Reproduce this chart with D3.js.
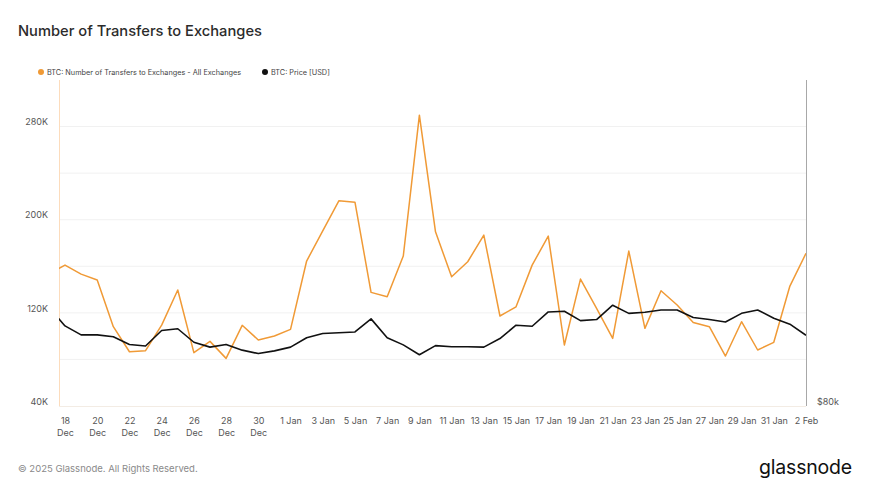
<!DOCTYPE html>
<html>
<head>
<meta charset="utf-8">
<script src="https://cdn.jsdelivr.net/npm/d3@7"></script>
<style>
  body { margin: 0; background: #fff; }
  svg { display: block; font-family: Inter, "Noto Sans", sans-serif; }
</style>
</head>
<body>
<div id="chart"></div>
<script>
// Glassnode style chart - transfers to exchanges vs BTC price

// daily dates, 17 Dec 2024 (partly clipped at the left edge) to 2 Feb 2025
const dates = [
    '2024-12-17', '2024-12-18', '2024-12-19', '2024-12-20', '2024-12-21', '2024-12-22', '2024-12-23',
    '2024-12-24', '2024-12-25', '2024-12-26', '2024-12-27', '2024-12-28', '2024-12-29', '2024-12-30',
    '2024-12-31', '2025-01-01', '2025-01-02', '2025-01-03', '2025-01-04', '2025-01-05', '2025-01-06',
    '2025-01-07', '2025-01-08', '2025-01-09', '2025-01-10', '2025-01-11', '2025-01-12', '2025-01-13',
    '2025-01-14', '2025-01-15', '2025-01-16', '2025-01-17', '2025-01-18', '2025-01-19', '2025-01-20',
    '2025-01-21', '2025-01-22', '2025-01-23', '2025-01-24', '2025-01-25', '2025-01-26', '2025-01-27',
    '2025-01-28', '2025-01-29', '2025-01-30', '2025-01-31', '2025-02-01', '2025-02-02'
];

// BTC: Number of Transfers to Exchanges - All Exchanges
const transfers = [
    153500, 161000, 153300, 148200, 108100, 86600, 87500,
    109500, 139600, 85800, 95500, 80900, 109300, 96700,
    100100, 105800, 164500, 190500, 216200, 215100, 137600,
    133800, 168800, 289800, 189600, 151000, 163900, 186800,
    117300, 125200, 161000, 185900, 92400, 149000, 123900,
    98100, 173100, 106700, 139000, 126700, 111800, 108100,
    82900, 112400, 88100, 94700, 143000, 171100
];

// BTC: Price [USD]
const price = [
    105600, 100200, 97700, 97700, 97200, 95100, 94700,
    98900, 99400, 95700, 94400, 95100, 93600, 92700,
    93400, 94400, 96900, 98100, 98300, 98500, 102200,
    96900, 95000, 92400, 94800, 94500, 94500, 94400,
    96700, 100400, 100100, 104200, 104400, 101700, 102000,
    106200, 103800, 104100, 104800, 104800, 102600, 102000,
    101300, 103800, 104800, 102400, 100700, 97600
];

const gridValues = [80000, 120000, 160000, 200000, 240000, 280000];
const leftTickValues = [40000, 120000, 200000, 280000];
const leftTickLabels = ['40K', '120K', '200K', '280K'];

const seriesNames = ['BTC: Number of Transfers to Exchanges - All Exchanges', 'BTC: Price [USD]'];
const seriesColors = ['#f09a36', '#111111'];

const W = 870, H = 490;
const plot = { left: 59, right: 806, top: 80, bottom: 406 };

const parse = d3.utcParse('%Y-%m-%d');
const rows = dates.map((d, i) => ({ date: parse(d), transfers: transfers[i], price: price[i] }));

const svg = d3.select('#chart').append('svg')
    .attr('width', W)
    .attr('height', H);

// scales
const firstDay = parse('2024-12-18');
const x = d3.scaleUtc()
    .domain([firstDay, parse('2025-02-02')])
    .range([65, plot.right]);

const y = d3.scaleLinear()
    .domain([40000, 320000])
    .range([plot.bottom, plot.top]);

const yPrice = d3.scaleLog()
    .domain([80000, 200000])
    .range([plot.bottom, plot.top]);

// title
svg.append('text')
    .attr('x', 18)
    .attr('y', 36)
    .style('font-size', '14.7px')
    .style('font-weight', 500)
    .style('fill', '#2b2b2b')
    .text('Number of Transfers to Exchanges');

// legend
const legendX = [41, 265];
const legend = svg.append('g').attr('transform', 'translate(0,72)');
seriesNames.forEach((name, i) => {
    legend.append('circle')
        .attr('cx', legendX[i])
        .attr('cy', 0)
        .attr('r', 3)
        .style('fill', seriesColors[i]);
    legend.append('text')
        .attr('x', legendX[i] + 6)
        .attr('y', 0)
        .attr('dy', '0.35em')
        .style('font-size', '7.3px')
        .style('fill', '#444')
        .text(name);
});

// grid lines
svg.append('g')
    .selectAll('line')
    .data(gridValues)
    .enter()
    .append('line')
    .attr('x1', plot.left)
    .attr('x2', plot.right)
    .attr('y1', d => y(d))
    .attr('y2', d => y(d))
    .style('stroke', '#f1f1f1')
    .style('stroke-width', 1);

// bottom line
svg.append('line')
    .attr('x1', plot.left)
    .attr('x2', plot.right)
    .attr('y1', plot.bottom + 0.5)
    .attr('y2', plot.bottom + 0.5)
    .style('stroke', '#f3ece4');

// left (orange) and right (grey) frame lines
svg.append('line')
    .attr('x1', plot.left + 0.5).attr('x2', plot.left + 0.5)
    .attr('y1', plot.top).attr('y2', plot.bottom)
    .style('stroke', '#fcdcbc');

svg.append('line')
    .attr('x1', plot.right + 0.5).attr('x2', plot.right + 0.5)
    .attr('y1', plot.top).attr('y2', plot.bottom)
    .style('stroke', '#a8a8a8');

// left axis labels
const leftAxis = svg.append('g')
    .attr('transform', `translate(48,0)`)
    .call(d3.axisLeft(y)
        .tickValues(leftTickValues)
        .tickSize(0)
        .tickPadding(0)
        .tickFormat((d, i) => leftTickLabels[i]));
leftAxis.select('.domain').remove();
leftAxis.selectAll('text')
    .attr('dy', '-0.2em')
    .style('font-family', 'Inter, sans-serif')
    .style('font-size', '9px')
    .style('fill', '#555');

// right axis label
const rightAxis = svg.append('g')
    .attr('transform', `translate(817,0)`)
    .call(d3.axisRight(yPrice)
        .tickValues([80000])
        .tickSize(0)
        .tickPadding(0)
        .tickFormat(d => '$' + d / 1000 + 'k'));
rightAxis.select('.domain').remove();
rightAxis.selectAll('text')
    .attr('dy', '-0.2em')
    .style('font-family', 'Inter, sans-serif')
    .style('font-size', '9px')
    .style('fill', '#555');

// x axis labels, every two days from 18 Dec
const xTicks = d3.range(0, 47, 2).map(i => d3.utcDay.offset(firstDay, i));
const xAxis = svg.append('g')
    .attr('transform', `translate(0,${plot.bottom})`)
    .call(d3.axisBottom(x)
        .tickValues(xTicks)
        .tickSize(0)
        .tickPadding(12)
        .tickFormat(d3.utcFormat('%-d %b')));
xAxis.select('.domain').remove();
xAxis.selectAll('text')
    .style('font-family', 'Inter, sans-serif')
    .style('font-size', '9px')
    .style('fill', '#555')
    .each(function(d) {
        if (d.getUTCMonth() === 11) {
            const t = d3.select(this);
            t.text(null);
            t.append('tspan').attr('x', 0).text(d.getUTCDate());
            t.append('tspan').attr('x', 0).attr('dy', '1.3em').text('Dec');
        }
    });

// clip lines to the plot area
svg.append('clipPath')
    .attr('id', 'plot-clip')
    .append('rect')
    .attr('x', plot.left)
    .attr('y', plot.top - 10)
    .attr('width', plot.right - plot.left)
    .attr('height', plot.bottom - plot.top + 10);

const lines = svg.append('g').attr('clip-path', 'url(#plot-clip)');

lines.append('path')
    .datum(rows)
    .attr('d', d3.line().x(d => x(d.date)).y(d => y(d.transfers)))
    .style('fill', 'none')
    .style('stroke', seriesColors[0])
    .style('stroke-width', 1.5)
    .style('stroke-linejoin', 'round');

lines.append('path')
    .datum(rows)
    .attr('d', d3.line().x(d => x(d.date)).y(d => yPrice(d.price)))
    .style('fill', 'none')
    .style('stroke', seriesColors[1])
    .style('stroke-width', 1.6)
    .style('stroke-linejoin', 'round');

// footer
svg.append('text')
    .attr('x', 18)
    .attr('y', 472)
    .style('font-size', '9.5px')
    .style('fill', '#8a8a8a')
    .text('\u00a9 2025 Glassnode. All Rights Reserved.');

svg.append('text')
    .attr('x', 852)
    .attr('y', 474)
    .attr('text-anchor', 'end')
    .style('font-size', '19.5px')
    .style('font-weight', 400)
    .style('fill', '#111')
    .style('letter-spacing', '-0.2px')
    .text('glassnode');
</script>
</body>
</html>
